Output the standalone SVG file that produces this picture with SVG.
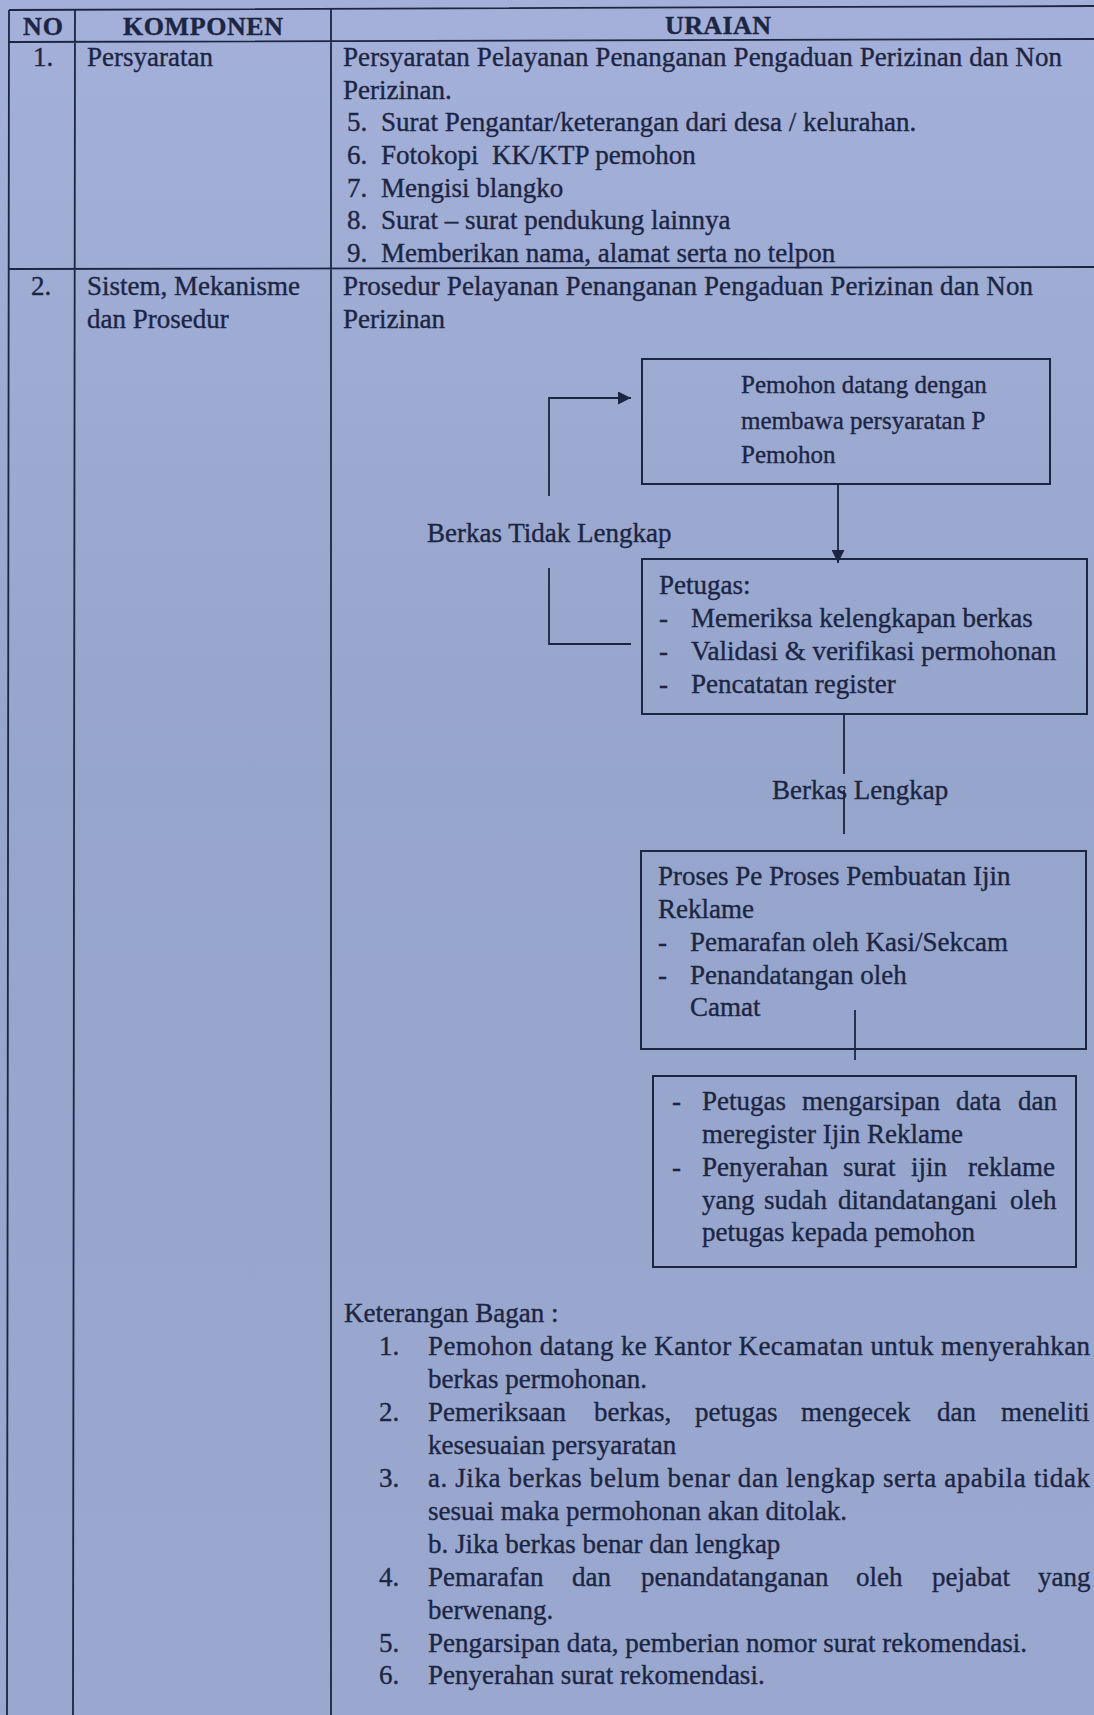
<svg xmlns="http://www.w3.org/2000/svg" width="1094" height="1715" viewBox="0 0 1094 1715">
<defs>
<linearGradient id="bg" x1="0" y1="0" x2="0" y2="1">
<stop offset="0" stop-color="#a4b0d9"/>
<stop offset="0.45" stop-color="#96a5cb"/>
<stop offset="1" stop-color="#9aa8cf"/>
</linearGradient>
<marker id="ah" viewBox="0 0 13 13" refX="13" refY="6.5" markerWidth="13" markerHeight="13" markerUnits="userSpaceOnUse" orient="auto">
<path d="M0,0 L13,6.5 L0,13 Z" fill="#1c2542"/>
</marker>
<style>
text{font-family:"Liberation Serif","Times New Roman",serif;font-size:27px;fill:#1c2542;stroke:#1c2542;stroke-width:0.35}
.h{font-weight:bold;font-size:26px}
.s{font-size:25px}
.ln{stroke:#1c2542;stroke-width:1.8;fill:none}
.box{fill:none;stroke:#1c2542;stroke-width:2}
</style>
</defs>
<rect width="1094" height="1715" fill="url(#bg)"/>

<g id="table">
<path class="ln" d="M9,10 L1094,6 M9,42 L1094,39 M9,269 L1094,267 M9,10 L7,1715 M75,10 L73,1715 M331,9 L331,1715"/>
<text class="h" x="23" y="35" textLength="40">NO</text>
<text class="h" x="123" y="35" textLength="160">KOMPONEN</text>
<text class="h" x="665" y="34" textLength="106">URAIAN</text>
</g>

<g id="row1">
<text x="33" y="66">1.</text>
<text x="87" y="66">Persyaratan</text>
<text x="343" y="66" textLength="719" lengthAdjust="spacing">Persyaratan Pelayanan Penanganan Pengaduan Perizinan dan Non</text>
<text x="343" y="99">Perizinan.</text>
<text x="347" y="131">5.</text><text x="381" y="131">Surat Pengantar/keterangan dari desa / kelurahan.</text>
<text x="347" y="164">6.</text><text x="381" y="164" xml:space="preserve">Fotokopi  KK/KTP pemohon</text>
<text x="347" y="197">7.</text><text x="381" y="197">Mengisi blangko</text>
<text x="347" y="229">8.</text><text x="381" y="229">Surat – surat pendukung lainnya</text>
<text x="347" y="262">9.</text><text x="381" y="262">Memberikan nama, alamat serta no telpon</text>
</g>

<g id="row2">
<text x="31" y="295">2.</text>
<text x="87" y="295">Sistem, Mekanisme</text>
<text x="87" y="328">dan Prosedur</text>
<text x="343" y="295" textLength="690" lengthAdjust="spacing">Prosedur Pelayanan Penanganan Pengaduan Perizinan dan Non</text>
<text x="343" y="328">Perizinan</text>
</g>

<g id="connectors">
<path class="ln" d="M549,496 V398 H631" marker-end="url(#ah)"/>
<path class="ln" d="M549,568 V644 H631"/>
<path class="ln" d="M838,484 V563" marker-end="url(#ah)"/>
<path class="ln" d="M844,714 V774 M844,790 V834"/>
<path class="ln" d="M855,1010 V1060"/>
<text x="427" y="542">Berkas Tidak Lengkap</text>
<text x="772" y="799">Berkas Lengkap</text>
</g>

<g id="box1">
<rect class="box" x="642" y="359" width="408" height="125"/>
<text class="s" x="741" y="393">Pemohon datang dengan</text>
<text class="s" x="741" y="429">membawa persyaratan P</text>
<text class="s" x="741" y="463">Pemohon</text>
</g>

<g id="box2">
<rect class="box" x="642" y="559" width="445" height="155"/>
<text x="659" y="594">Petugas:</text>
<text x="659" y="627">-</text><text x="691" y="627">Memeriksa kelengkapan berkas</text>
<text x="659" y="660">-</text><text x="691" y="660">Validasi &amp; verifikasi permohonan</text>
<text x="659" y="693">-</text><text x="691" y="693">Pencatatan register</text>
</g>

<g id="box3">
<rect class="box" x="641" y="851" width="445" height="198"/>
<text x="658" y="885">Proses Pe Proses Pembuatan Ijin</text>
<text x="658" y="918">Reklame</text>
<text x="658" y="951">-</text><text x="690" y="951">Pemarafan oleh Kasi/Sekcam</text>
<text x="658" y="984">-</text><text x="690" y="984">Penandatangan oleh</text>
<text x="690" y="1016">Camat</text>
</g>

<g id="box4">
<rect class="box" x="653" y="1076" width="423" height="191"/>
<text x="672" y="1110">-</text>
<text y="1110"><tspan x="702">Petugas</tspan> <tspan x="802">mengarsipan</tspan> <tspan x="956">data</tspan> <tspan x="1018">dan</tspan></text>
<text x="702" y="1143">meregister Ijin Reklame</text>
<text x="672" y="1176">-</text>
<text y="1176"><tspan x="702">Penyerahan</tspan> <tspan x="843">surat</tspan> <tspan x="911">ijin</tspan> <tspan x="968">reklame</tspan></text>
<text y="1209"><tspan x="702">yang</tspan> <tspan x="764">sudah</tspan> <tspan x="838">ditandatangani</tspan> <tspan x="1010">oleh</tspan></text>
<text x="702" y="1241">petugas kepada pemohon</text>
</g>

<g id="keterangan">
<text x="344" y="1322">Keterangan Bagan :</text>
<text x="379" y="1355">1.</text>
<text x="428" y="1355" textLength="662" lengthAdjust="spacing">Pemohon datang ke Kantor Kecamatan untuk menyerahkan</text>
<text x="428" y="1388">berkas permohonan.</text>
<text x="379" y="1421">2.</text>
<text y="1421"><tspan x="428">Pemeriksaan</tspan> <tspan x="594">berkas,</tspan> <tspan x="695">petugas</tspan> <tspan x="801">mengecek</tspan> <tspan x="937">dan</tspan> <tspan x="1001">meneliti</tspan></text>
<text x="428" y="1454">kesesuaian persyaratan</text>
<text x="379" y="1487">3.</text>
<text x="428" y="1487" textLength="662" lengthAdjust="spacing">a. Jika berkas belum benar dan lengkap serta apabila tidak</text>
<text x="428" y="1520">sesuai maka permohonan akan ditolak.</text>
<text x="428" y="1553">b. Jika berkas benar dan lengkap</text>
<text x="379" y="1586">4.</text>
<text y="1586"><tspan x="428">Pemarafan</tspan> <tspan x="572">dan</tspan> <tspan x="641">penandatanganan</tspan> <tspan x="856">oleh</tspan> <tspan x="932">pejabat</tspan> <tspan x="1038">yang</tspan></text>
<text x="428" y="1619">berwenang.</text>
<text x="379" y="1652">5.</text>
<text x="428" y="1652">Pengarsipan data, pemberian nomor surat rekomendasi.</text>
<text x="379" y="1684">6.</text>
<text x="428" y="1684">Penyerahan surat rekomendasi.</text>
</g>
</svg>
